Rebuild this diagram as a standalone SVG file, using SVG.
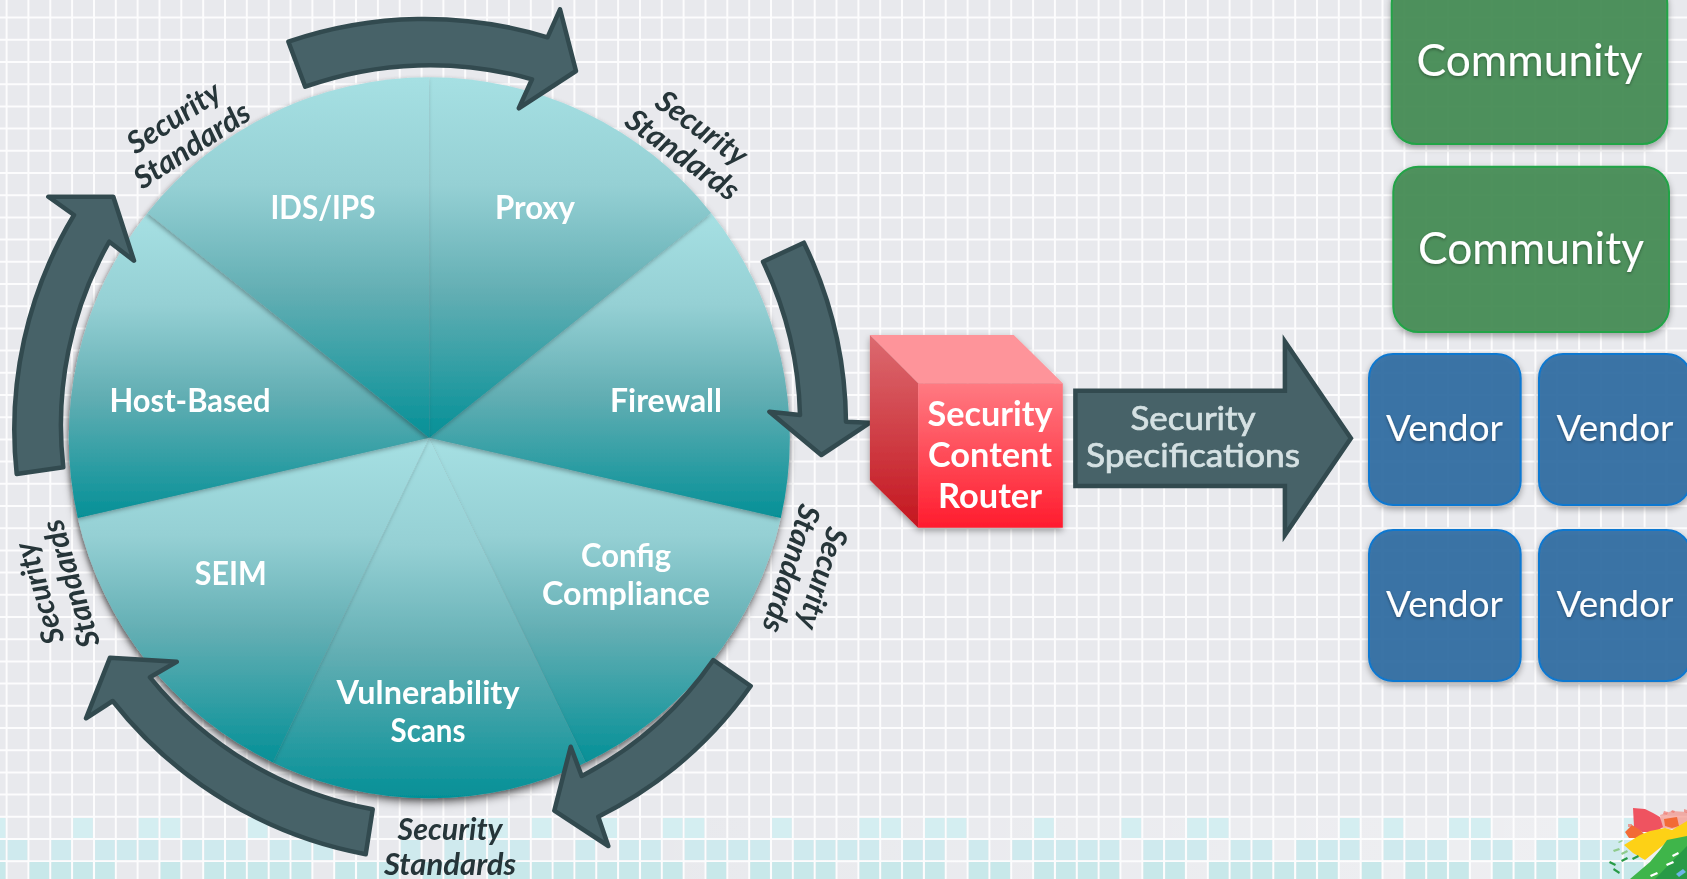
<svg xmlns="http://www.w3.org/2000/svg" width="1687" height="879" viewBox="0 0 1687 879">
<style>
text{font-family:"Lato","Liberation Sans",sans-serif}
.w{font-size:32.5px;font-weight:700;fill:#fff;text-anchor:middle}
.r{font-size:34.5px;font-weight:700;fill:#fff;text-anchor:middle}
.s{font-size:30.5px;font-weight:700;font-style:italic;fill:#263539;text-anchor:middle}
.c{font-size:44.5px;fill:#fff;text-anchor:middle;filter:url(#ts)}
.v{font-size:36.5px;fill:#fff;text-anchor:middle;filter:url(#ts)}
.t{font-size:33px;fill:#d5e1e3;stroke:#d5e1e3;stroke-width:.7;text-anchor:middle}
.a{fill:#476268;stroke:#324a4f;stroke-width:4.5;stroke-linejoin:round}
.g{fill:#448c55;fill-opacity:.92;stroke:#22a447;stroke-width:2;filter:url(#bs)}
.b{fill:#2f6ca3;fill-opacity:.92;stroke:#0f78d0;stroke-width:2;filter:url(#bs)}
.sl{filter:url(#ss)}
</style>
<defs>
<linearGradient id="wg" x1="0" y1="0" x2="0" y2="1">
<stop offset="0" stop-color="#a6e0e3"/><stop offset=".3" stop-color="#95d0d4"/><stop offset=".6" stop-color="#62aeb3"/><stop offset="1" stop-color="#059097"/>
</linearGradient>
<linearGradient id="rf" x1="0" y1="0" x2="0" y2="1"><stop offset="0" stop-color="#ff7a82"/><stop offset="1" stop-color="#ff1c2e"/></linearGradient>
<linearGradient id="rl" x1="0" y1="0" x2="0" y2="1"><stop offset="0" stop-color="#dc6a70"/><stop offset="1" stop-color="#c4161f"/></linearGradient>
<linearGradient id="ov" x1="0" y1="0" x2="1" y2="0"><stop offset=".35" stop-color="#fff" stop-opacity="0"/><stop offset="1" stop-color="#fff" stop-opacity=".3"/></linearGradient>
<filter id="ws" x="-5%" y="-5%" width="110%" height="110%"><feDropShadow dx="0" dy="5" stdDeviation="3.5" flood-color="#000" flood-opacity=".4"/></filter>
<filter id="ss" x="-10%" y="-10%" width="120%" height="120%"><feDropShadow dx="-1.5" dy="2" stdDeviation="2" flood-color="#000" flood-opacity=".3"/></filter>
<filter id="bs" x="-10%" y="-10%" width="120%" height="120%"><feDropShadow dx="0" dy="3" stdDeviation="3" flood-color="#000" flood-opacity=".35"/></filter>
<filter id="ts" x="-10%" y="-20%" width="120%" height="140%"><feDropShadow dx="0" dy="1.5" stdDeviation="1.5" flood-color="#000" flood-opacity=".35"/></filter>
</defs>
<g id="background">
<rect width="1687" height="879" fill="#e8e9ed"/>
<path fill="none" stroke="#fff" stroke-width="2" stroke-opacity=".85" d="M6.6 0V879M28.4 0V879M50.3 0V879M72.1 0V879M94 0V879M115.8 0V879M137.6 0V879M159.5 0V879M181.3 0V879M203.2 0V879M225 0V879M246.8 0V879M268.7 0V879M290.5 0V879M312.4 0V879M334.2 0V879M356 0V879M377.9 0V879M399.7 0V879M421.6 0V879M443.4 0V879M465.2 0V879M487.1 0V879M508.9 0V879M530.8 0V879M552.6 0V879M574.4 0V879M596.3 0V879M618.1 0V879M640 0V879M661.8 0V879M683.6 0V879M705.5 0V879M727.3 0V879M749.2 0V879M771 0V879M792.8 0V879M814.7 0V879M836.5 0V879M858.4 0V879M880.2 0V879M902 0V879M923.9 0V879M945.7 0V879M967.6 0V879M989.4 0V879M1011.2 0V879M1033.1 0V879M1054.9 0V879M1076.8 0V879M1098.6 0V879M1120.4 0V879M1142.3 0V879M1164.1 0V879M1186 0V879M1207.8 0V879M1229.6 0V879M1251.5 0V879M1273.3 0V879M1295.2 0V879M1317 0V879M1338.8 0V879M1360.7 0V879M1382.5 0V879M1404.4 0V879M1426.2 0V879M1448 0V879M1469.9 0V879M1491.7 0V879M1513.6 0V879M1535.4 0V879M1557.2 0V879M1579.1 0V879M1600.9 0V879M1622.8 0V879M1644.6 0V879M1666.4 0V879M0 17.6H1687M0 39.8H1687M0 62H1687M0 84.2H1687M0 106.4H1687M0 128.6H1687M0 150.8H1687M0 173H1687M0 195.2H1687M0 217.4H1687M0 239.6H1687M0 261.8H1687M0 284H1687M0 306.2H1687M0 328.4H1687M0 350.6H1687M0 372.8H1687M0 395H1687M0 417.2H1687M0 439.4H1687M0 461.6H1687M0 483.8H1687M0 506H1687M0 528.2H1687M0 550.4H1687M0 572.6H1687M0 594.8H1687M0 617H1687M0 639.2H1687M0 661.4H1687M0 683.6H1687M0 705.8H1687M0 728H1687M0 750.2H1687M0 772.4H1687M0 794.6H1687M0 816.8H1687M0 839H1687M0 861.2H1687"/>
<rect y="818" width="1687" height="61" fill="url(#ov)"/>
<g transform="translate(1.1 0)">
<path fill="#d4eef1" d="M-15.2 818h19.6v20h-19.6zM72.1 818h19.6v20h-19.6zM137.6 818h19.6v20h-19.6zM159.5 818h19.6v20h-19.6zM246.8 818h19.6v20h-19.6zM465.2 818h19.6v20h-19.6zM487.1 818h19.6v20h-19.6zM530.8 818h19.6v20h-19.6zM596.3 818h19.6v20h-19.6zM661.8 818h19.6v20h-19.6zM683.6 818h19.6v20h-19.6zM771 818h19.6v20h-19.6zM858.4 818h19.6v20h-19.6zM880.2 818h19.6v20h-19.6zM923.9 818h19.6v20h-19.6zM945.7 818h19.6v20h-19.6zM1033.1 818h19.6v20h-19.6zM1120.4 818h19.6v20h-19.6zM1186 818h19.6v20h-19.6zM1207.8 818h19.6v20h-19.6zM1338.8 818h19.6v20h-19.6zM1382.5 818h19.6v20h-19.6zM1448 818h19.6v20h-19.6zM1469.9 818h19.6v20h-19.6zM1557.2 818h19.6v20h-19.6zM1622.8 818h19.6v20h-19.6z"/>
<path fill="#cfeaee" d="M-15.2 840h19.6v20h-19.6zM6.6 840h19.6v20h-19.6zM50.3 840h19.6v20h-19.6zM94 840h19.6v20h-19.6zM115.8 840h19.6v20h-19.6zM137.6 840h19.6v20h-19.6zM181.3 840h19.6v20h-19.6zM203.2 840h19.6v20h-19.6zM225 840h19.6v20h-19.6zM268.7 840h19.6v20h-19.6zM290.5 840h19.6v20h-19.6zM312.4 840h19.6v20h-19.6zM399.7 840h19.6v20h-19.6zM443.4 840h19.6v20h-19.6zM465.2 840h19.6v20h-19.6zM487.1 840h19.6v20h-19.6zM508.9 840h19.6v20h-19.6zM574.4 840h19.6v20h-19.6zM618.1 840h19.6v20h-19.6zM640 840h19.6v20h-19.6zM683.6 840h19.6v20h-19.6zM705.5 840h19.6v20h-19.6zM727.3 840h19.6v20h-19.6zM749.2 840h19.6v20h-19.6zM792.8 840h19.6v20h-19.6zM814.7 840h19.6v20h-19.6zM836.5 840h19.6v20h-19.6zM858.4 840h19.6v20h-19.6zM902 840h19.6v20h-19.6zM923.9 840h19.6v20h-19.6zM967.6 840h19.6v20h-19.6zM1011.2 840h19.6v20h-19.6zM1033.1 840h19.6v20h-19.6zM1054.9 840h19.6v20h-19.6zM1076.8 840h19.6v20h-19.6zM1098.6 840h19.6v20h-19.6zM1142.3 840h19.6v20h-19.6zM1164.1 840h19.6v20h-19.6zM1186 840h19.6v20h-19.6zM1229.6 840h19.6v20h-19.6zM1251.5 840h19.6v20h-19.6zM1295.2 840h19.6v20h-19.6zM1317 840h19.6v20h-19.6zM1338.8 840h19.6v20h-19.6zM1382.5 840h19.6v20h-19.6zM1404.4 840h19.6v20h-19.6zM1426.2 840h19.6v20h-19.6zM1469.9 840h19.6v20h-19.6zM1491.7 840h19.6v20h-19.6zM1535.4 840h19.6v20h-19.6zM1557.2 840h19.6v20h-19.6zM1579.1 840h19.6v20h-19.6zM1600.9 840h19.6v20h-19.6zM1622.8 840h19.6v20h-19.6z"/>
<path fill="#c8e8ea" d="M-15.2 862h19.6v17h-19.6zM28.4 862h19.6v17h-19.6zM50.3 862h19.6v17h-19.6zM72.1 862h19.6v17h-19.6zM94 862h19.6v17h-19.6zM159.5 862h19.6v17h-19.6zM203.2 862h19.6v17h-19.6zM225 862h19.6v17h-19.6zM246.8 862h19.6v17h-19.6zM268.7 862h19.6v17h-19.6zM290.5 862h19.6v17h-19.6zM334.2 862h19.6v17h-19.6zM356 862h19.6v17h-19.6zM377.9 862h19.6v17h-19.6zM421.6 862h19.6v17h-19.6zM443.4 862h19.6v17h-19.6zM487.1 862h19.6v17h-19.6zM508.9 862h19.6v17h-19.6zM530.8 862h19.6v17h-19.6zM552.6 862h19.6v17h-19.6zM574.4 862h19.6v17h-19.6zM596.3 862h19.6v17h-19.6zM618.1 862h19.6v17h-19.6zM640 862h19.6v17h-19.6zM661.8 862h19.6v17h-19.6zM705.5 862h19.6v17h-19.6zM749.2 862h19.6v17h-19.6zM771 862h19.6v17h-19.6zM792.8 862h19.6v17h-19.6zM814.7 862h19.6v17h-19.6zM858.4 862h19.6v17h-19.6zM880.2 862h19.6v17h-19.6zM902 862h19.6v17h-19.6zM923.9 862h19.6v17h-19.6zM967.6 862h19.6v17h-19.6zM989.4 862h19.6v17h-19.6zM1033.1 862h19.6v17h-19.6zM1054.9 862h19.6v17h-19.6zM1076.8 862h19.6v17h-19.6zM1098.6 862h19.6v17h-19.6zM1142.3 862h19.6v17h-19.6zM1164.1 862h19.6v17h-19.6zM1207.8 862h19.6v17h-19.6zM1229.6 862h19.6v17h-19.6zM1251.5 862h19.6v17h-19.6zM1273.3 862h19.6v17h-19.6zM1295.2 862h19.6v17h-19.6zM1317 862h19.6v17h-19.6zM1360.7 862h19.6v17h-19.6zM1404.4 862h19.6v17h-19.6zM1426.2 862h19.6v17h-19.6zM1448 862h19.6v17h-19.6zM1491.7 862h19.6v17h-19.6zM1513.6 862h19.6v17h-19.6zM1535.4 862h19.6v17h-19.6zM1579.1 862h19.6v17h-19.6zM1600.9 862h19.6v17h-19.6zM1622.8 862h19.6v17h-19.6z"/>
</g>
<g id="logo">
<path fill="#f4796a" opacity=".55" d="M1660 815L1672 811L1687 812L1687 826L1672 829L1662 828Z"/>
<path fill="#ef5360" d="M1633 808L1645 809L1653 813L1660 817L1663 827L1655 832L1642 832L1634 827Z"/>
<path fill="#f0786f" opacity=".7" d="M1664 811l4 1-1 3-4-1zM1672 810l3 1-1 2-3-1zM1628 824l4 0 0 3-4 0zM1684 809l3 1v3l-3-1z"/>
<path fill="#f26a35" d="M1625 832L1632 825L1640 830L1644 834L1636 838L1629 838ZM1664 819L1677 817L1679 826L1672 828L1665 826Z"/>
<path fill="#fdd116" d="M1624 845L1640 835L1650 831L1665 828L1672 830L1687 821L1687 838L1667 842L1645 860L1633 853Z"/>
<path fill="#3fb54a" d="M1630 879L1650 862L1660 850L1667 840L1687 836L1687 879Z"/>
<path fill="#289a46" d="M1655 879L1687 846L1687 879Z"/>
<path fill="#fff" d="M1666 864l7-3 1 2-7 3zM1650 875l7-3 1 2-7 3zM1672 855l6-3 1 2-6 3z"/>
<path fill="#6db5e6" d="M1676 874l7-5 3 3-7 5z"/>
<path fill="#8fcb8c" d="M1613 850l6-2 1 2-6 2zM1621 853l6-3 1 2-6 3zM1618 842l4-2 1 1-4 2z"/>
<path fill="#289a46" d="M1610 861l6 3-1 2-6-3zM1614 868l6 4-1 2-6-4zM1621 860l6-3 1 2-6 3zM1632 858l6-3 1 2-6 3z"/>
</g>
</g>
<g id="wheel" filter="url(#ws)">
<g id="slice-config"><path class="sl" fill="url(#wg)" d="M429.3 437.7L780.8 517.9A360.5 360.5 0 0 1 585.7 762.5Z"/><text class="w" x="626" y="567" textLength="90" lengthAdjust="spacingAndGlyphs">Config</text><text class="w" x="626" y="605" textLength="168" lengthAdjust="spacingAndGlyphs">Compliance</text></g>
<g id="slice-vulnerability"><path class="sl" fill="url(#wg)" d="M429.3 437.7L585.7 762.5A360.5 360.5 0 0 1 272.9 762.5Z"/><text class="w" x="428" y="704" textLength="183" lengthAdjust="spacingAndGlyphs">Vulnerability</text><text class="w" x="428" y="742" textLength="75" lengthAdjust="spacingAndGlyphs">Scans</text></g>
<g id="slice-seim"><path class="sl" fill="url(#wg)" d="M429.3 437.7L272.9 762.5A360.5 360.5 0 0 1 77.8 517.9Z"/><text class="w" x="230.7" y="585" textLength="72" lengthAdjust="spacingAndGlyphs">SEIM</text></g>
<g id="slice-firewall"><path class="sl" fill="url(#wg)" d="M429.3 437.7L711.1 212.9A360.5 360.5 0 0 1 780.8 517.9Z"/><text class="w" x="666" y="412" textLength="112" lengthAdjust="spacingAndGlyphs">Firewall</text></g>
<g id="slice-host"><path class="sl" fill="url(#wg)" d="M429.3 437.7L77.8 517.9A360.5 360.5 0 0 1 147.5 212.9Z"/><text class="w" x="190" y="412" textLength="161" lengthAdjust="spacingAndGlyphs">Host-Based</text></g>
<g id="slice-proxy"><path class="sl" fill="url(#wg)" d="M429.3 437.7L429.3 77.2A360.5 360.5 0 0 1 711.1 212.9Z"/><text class="w" x="535" y="219" textLength="80" lengthAdjust="spacingAndGlyphs">Proxy</text></g>
<g id="slice-ids"><path class="sl" fill="url(#wg)" d="M429.3 437.7L147.5 212.9A360.5 360.5 0 0 1 429.3 77.2Z"/><text class="w" x="323" y="219" textLength="105" lengthAdjust="spacingAndGlyphs">IDS/IPS</text></g>
</g>
<g id="connectors">
<path class="a" d="M288.4 41.7A420 420 0 0 1 547.5 37.3L560 9.3L576 71L518.8 108.3L532 79.3A374 374 0 0 0 305.2 86.7Z"/>
<path class="a" d="M803.9 242.7A420 420 0 0 1 846 421.7L870 422.7L821.3 455L769.4 411.7L800 415A374 374 0 0 0 763 261.7Z"/>
<path class="a" d="M750.7 686A412 412 0 0 1 598.3 816.7L608.3 846L554.3 810.7L570.7 746.7L581.7 776A366 366 0 0 0 713.3 660Z"/>
<path class="a" d="M372.7 809.3A374 374 0 0 1 150 677.3L176.7 661.7L110 657.7L86 718.3L112.7 701A420 420 0 0 0 365.7 854.3Z"/>
<path class="a" d="M16.7 474A415 415 0 0 1 74 215L48.3 196.7L113.3 196.7L134 260.7L109.3 241.7A372 372 0 0 0 63.3 467.3Z"/>
</g>
<g id="labels">
<g transform="translate(184 133) rotate(-33)"><text class="s" y="-8" textLength="105" lengthAdjust="spacingAndGlyphs">Security</text><text class="s" y="25" textLength="132" lengthAdjust="spacingAndGlyphs">Standards</text></g>
<g transform="translate(691 143) rotate(36)"><text class="s" y="-8" textLength="105" lengthAdjust="spacingAndGlyphs">Security</text><text class="s" y="25" textLength="132" lengthAdjust="spacingAndGlyphs">Standards</text></g>
<g transform="translate(805 573) rotate(107)"><text class="s" y="-8" textLength="105" lengthAdjust="spacingAndGlyphs">Security</text><text class="s" y="25" textLength="132" lengthAdjust="spacingAndGlyphs">Standards</text></g>
<g transform="translate(57 588) rotate(-107)"><text class="s" y="-8" textLength="105" lengthAdjust="spacingAndGlyphs">Security</text><text class="s" y="25" textLength="132" lengthAdjust="spacingAndGlyphs">Standards</text></g>
<g><text class="s" x="450" y="840" textLength="105" lengthAdjust="spacingAndGlyphs">Security</text><text class="s" x="450" y="875" textLength="132" lengthAdjust="spacingAndGlyphs">Standards</text></g>
</g>
<g id="router" filter="url(#bs)">
<path fill="#fe949a" d="M869.9 335H1013.8L1062.8 383.3H918.1Z"/>
<path fill="url(#rl)" d="M869.9 335L918.1 383.3V527.7L869.9 480Z"/>
<rect x="918.1" y="383.3" width="144.7" height="144.4" fill="url(#rf)"/>
<text class="r" x="990" y="426" textLength="125" lengthAdjust="spacingAndGlyphs">Security</text><text class="r" x="990" y="467" textLength="124" lengthAdjust="spacingAndGlyphs">Content</text><text class="r" x="990" y="508" textLength="104" lengthAdjust="spacingAndGlyphs">Router</text>
</g>
<g id="specifications">
<path class="a" style="stroke-linejoin:miter;stroke-miterlimit:8" d="M1075.4 390.7H1284.9V341.5L1350.9 438.3L1284.9 535V486H1075.4Z"/>
<text class="t" x="1193" y="430" textLength="125" lengthAdjust="spacingAndGlyphs">Security</text>
<text class="t" x="1193" y="467" textLength="214" lengthAdjust="spacingAndGlyphs">Specifications</text>
</g>
<g id="community-1"><rect class="g" x="1391.7" y="-21.6" width="275.6" height="165.6" rx="25"/><text class="c" x="1529.5" y="76" textLength="226" lengthAdjust="spacingAndGlyphs">Community</text></g>
<g id="community-2"><rect class="g" x="1393.3" y="166.7" width="275.7" height="165.3" rx="25"/><text class="c" x="1531" y="263.5" textLength="226" lengthAdjust="spacingAndGlyphs">Community</text></g>
<g id="vendor-1"><rect class="b" x="1369" y="354" width="151.7" height="151" rx="24"/><text class="v" x="1444.5" y="441" textLength="117" lengthAdjust="spacingAndGlyphs">Vendor</text></g>
<g id="vendor-2"><rect class="b" x="1539" y="354" width="151.7" height="151" rx="24"/><text class="v" x="1615" y="441" textLength="117" lengthAdjust="spacingAndGlyphs">Vendor</text></g>
<g id="vendor-3"><rect class="b" x="1369" y="530" width="151.7" height="151" rx="24"/><text class="v" x="1444.5" y="617" textLength="117" lengthAdjust="spacingAndGlyphs">Vendor</text></g>
<g id="vendor-4"><rect class="b" x="1539" y="530" width="151.7" height="151" rx="24"/><text class="v" x="1615" y="617" textLength="117" lengthAdjust="spacingAndGlyphs">Vendor</text></g>
</svg>
